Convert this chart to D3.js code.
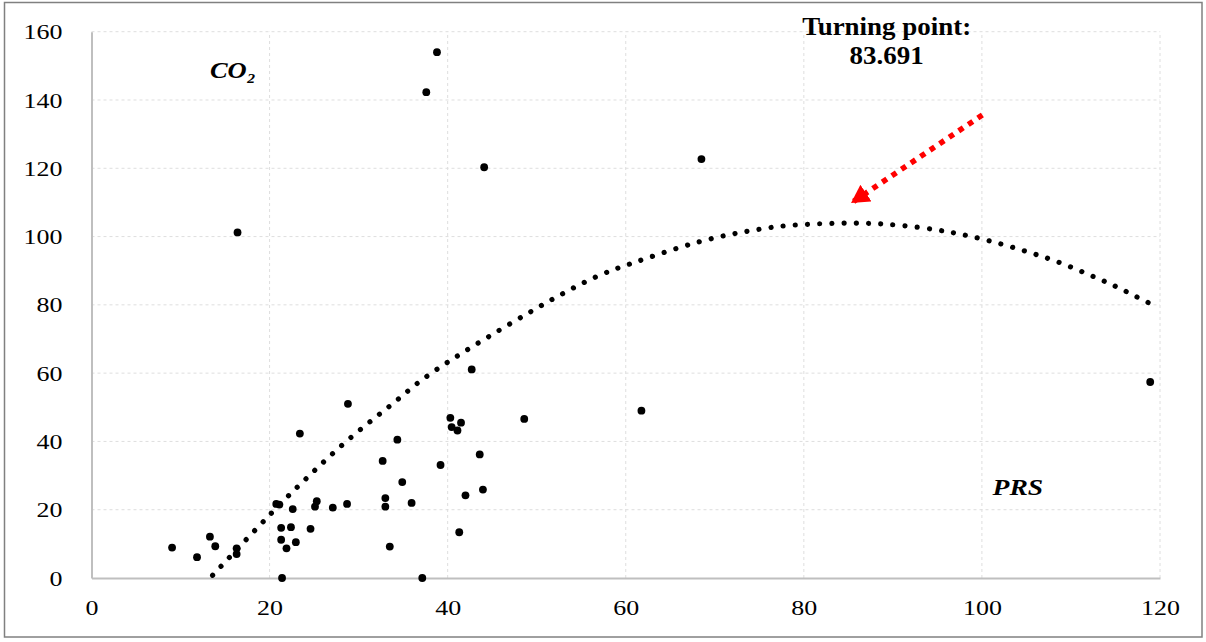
<!DOCTYPE html>
<html>
<head>
<meta charset="utf-8">
<script src="https://cdn.jsdelivr.net/npm/d3@7"></script>
<style>
  body { margin: 0; background: #fff; }
  svg { display: block; font-family: "Liberation Serif", "Times New Roman", serif; }
</style>
</head>
<body>
<div id="chart"></div>
<script>
// PRS (x) vs CO2 (y), scatter values
const prsValues = [9.05, 11.85, 13.3, 13.9, 16.3, 16.3, 16.4, 20.75, 21.1, 22.6, 23.4, 21.3, 22.4, 21.3, 22.95, 21.9,
    24.6, 21.4, 25.1, 25.3, 27.1, 28.7, 28.8, 32.7, 34.35, 34.9, 33.0, 33.0, 35.95, 33.5, 37.15, 39.2,
    40.3, 40.45, 41.1, 41.5, 42.7, 43.6, 43.96, 42.0, 41.3, 48.6, 68.5, 61.76, 118.9, 38.8, 37.6, 44.1];
const co2Values = [8.9, 6.1, 12.1, 9.3, 8.7, 7.0, 101.2, 21.7, 21.5, 20.2, 42.3, 14.7, 14.9, 11.2, 10.5, 8.7,
    14.4, 0, 20.9, 22.5, 20.6, 21.7, 51.0, 34.3, 40.5, 28.1, 23.4, 20.9, 22.0, 9.2, 0, 33.1,
    46.9, 44.2, 43.2, 45.5, 61.1, 36.2, 25.9, 24.2, 13.4, 46.6, 122.7, 49.0, 57.4, 154.0, 142.3, 120.3];

// quadratic trend line
const trendX = [13.6, 20.2, 24.1, 29.1, 34.5, 40.0, 53.0, 60.5, 68.3, 74.9, 79.1, 84.6, 88.7, 92.9, 97.0, 100.9, 104.9, 108.8, 112.6, 115.1, 118.8];
const trendY = [0.8, 19.0, 29.1, 41.1, 52.5, 63.2, 83.4, 92.0, 98.5, 102.1, 103.4, 103.95, 103.7, 102.7, 101.0, 98.7, 95.7, 92.3, 88.2, 85.3, 80.5];

const xTicks = [0, 20, 40, 60, 80, 100, 120];
const yTicks = [0, 20, 40, 60, 80, 100, 120, 140, 160];

const turningLabel = ["Turning point:", "83.691"];

const W = 1206, H = 642;
const stretch = 1.18; // the original text is drawn a bit wide

const svg = d3.select("#chart").append("svg")
    .attr("width", W)
    .attr("height", H);

// outer border
svg.append("rect")
    .attr("x", 4.5).attr("y", 2.5)
    .attr("width", 1197.5).attr("height", 634.5)
    .attr("fill", "none")
    .attr("stroke", "#808080")
    .attr("stroke-width", 1.5);

const x = d3.scaleLinear().domain([0, 120]).range([91.5, 1160]);
const y = d3.scaleLinear().domain([0, 160]).range([578, 31.7]);

// gridlines
svg.append("g").selectAll("line")
    .data(xTicks.slice(1))
    .join("line")
    .attr("x1", d => x(d)).attr("x2", d => x(d))
    .attr("y1", y(0)).attr("y2", y(160))
    .attr("stroke", "#dedede")
    .attr("stroke-dasharray", "3,3");

svg.append("g").selectAll("line")
    .data(yTicks.slice(1))
    .join("line")
    .attr("x1", x(0)).attr("x2", x(120))
    .attr("y1", d => y(d)).attr("y2", d => y(d))
    .attr("stroke", "#dedede")
    .attr("stroke-dasharray", "3,3");

// axes
const xAxis = svg.append("g")
    .attr("transform", `translate(0,${y(0)})`)
    .call(d3.axisBottom(x).tickValues(xTicks).tickSize(0).tickPadding(21));
const yAxis = svg.append("g")
    .attr("transform", `translate(${x(0)},0)`)
    .call(d3.axisLeft(y).tickValues(yTicks).tickSize(0).tickPadding(29 / stretch));

[xAxis, yAxis].forEach(g => {
    g.select(".domain").attr("stroke", "#bfbfbf").attr("stroke-width", 2);
    g.selectAll("text")
        .attr("fill", "#000")
        .attr("transform", `scale(${stretch},1)`)
        .style("font-family", "'Liberation Serif', serif")
        .style("font-size", "22px");
});

// trend line (round dots)
const trendData = trendX.map((v, i) => [v, trendY[i]]);
const line = d3.line()
    .x(d => x(d[0]))
    .y(d => y(d[1]))
    .curve(d3.curveNatural);

svg.append("path")
    .datum(trendData)
    .attr("d", line)
    .attr("fill", "none")
    .attr("stroke", "#000")
    .attr("stroke-width", 5.2)
    .attr("stroke-linecap", "round")
    .attr("stroke-dasharray", "0.01,12.2");

// scatter points
svg.append("g").selectAll("circle")
    .data(prsValues.map((v, i) => [v, co2Values[i]]))
    .join("circle")
    .attr("cx", d => x(d[0]))
    .attr("cy", d => y(d[1]))
    .attr("r", 3.9)
    .attr("fill", "#000");

// red arrow pointing at the turning point
svg.append("defs").append("marker")
    .attr("id", "head")
    .attr("markerUnits", "userSpaceOnUse")
    .attr("viewBox", "0 -10 18 20")
    .attr("markerWidth", 18)
    .attr("markerHeight", 20)
    .attr("refX", 18)
    .attr("refY", 0)
    .attr("orient", "auto")
    .append("path")
    .attr("d", "M0,-10L18,0L0,10Z")
    .attr("fill", "#ff0000");

svg.append("line")
    .attr("x1", x(100.05)).attr("y1", y(135.6))
    .attr("x2", x(85.3)).attr("y2", y(109.8))
    .attr("stroke", "#ff0000")
    .attr("stroke-width", 5.5)
    .attr("stroke-dasharray", "5.5,6")
    .attr("marker-end", "url(#head)");

// text labels, stretched horizontally around their anchor
function label(px, py, txt, size, italic, anchor, sx) {
    return svg.append("text")
        .attr("transform", `translate(${px},${py}) scale(${sx},1)`)
        .attr("text-anchor", anchor)
        .style("font-size", size + "px")
        .style("font-weight", "bold")
        .style("font-style", italic ? "italic" : "normal")
        .text(txt);
}

label(x(89.3), y(159.0), turningLabel[0], 24.5, false, "middle", 1.1);
label(x(89.3), y(150.5), turningLabel[1], 24.5, false, "middle", 1.1);
label(x(13.3), y(146.4), "CO₂", 23, true, "start", 1.15);
label(x(101.2), y(24.3), "PRS", 23, true, "start", 1.2);
</script>
</body>
</html>
